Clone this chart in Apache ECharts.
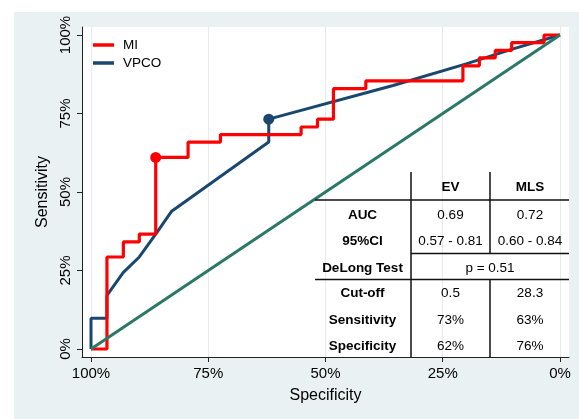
<!DOCTYPE html>
<html>
<head>
<meta charset="utf-8">
<script src="https://cdn.jsdelivr.net/npm/echarts@6/dist/echarts.min.js"></script>
<style>
html,body{margin:0;padding:0;background:#fff;}
#chart{width:579px;height:419px;}
</style>
</head>
<body>
<div id="chart"></div>
<script>
// ---- Data (specificity %, sensitivity %) ----
const miCurve = [[100,0],[96.6,0],[96.6,29.3],[93.1,29.3],[93.1,34.1],[89.7,34.1],[89.7,36.6],[86.2,36.6],[86.2,61.0],[79.3,61.0],[79.3,65.9],[72.4,65.9],[72.4,68.3],[55.2,68.3],[55.2,70.7],[51.7,70.7],[51.7,73.2],[48.3,73.2],[48.3,82.9],[41.4,82.9],[41.4,85.4],[20.7,85.4],[20.7,90.2],[17.2,90.2],[17.2,92.7],[13.8,92.7],[13.8,95.1],[10.3,95.1],[10.3,97.6],[3.4,97.6],[3.4,100],[0,100]];
const vpcoCurve = [[100,0],[100,9.8],[96.6,9.8],[96.6,17.1],[93.1,24.4],[89.7,29.3],[86.2,36.6],[82.8,43.9],[62.1,65.9],[62.1,73.2],[35.6,83.9],[20.0,90.8],[10.0,95.6],[0,100]];
const miCutoff = [[86.2,61.0]];
const vpcoCutoff = [[62.1,73.2]];
const refLine = [[100,0],[0,100]];
const tickValues = [0,25,50,75,100];
const seriesNames = ['MI','VPCO'];

// ---- Table ----
const tableCols = ['EV','MLS'];
const rowLabels = ['AUC','95%CI','DeLong Test','Cut-off','Sensitivity','Specificity'];
const evValues = ['0.69','0.57 - 0.81','','0.5','73%','62%'];
const mlsValues = ['0.72','0.60 - 0.84','','28.3','63%','76%'];
const delongText = 'p = 0.51';

const FONT = "'Liberation Sans', Arial, Helvetica, sans-serif";
const RED = '#ff0000', NAVY = '#1a476f', TEAL = '#2c7867';

// table layout (pixels)
const colX = [362.5, 450.5, 530];
const headerY = 187;
const rowY = [215, 241, 268, 293, 320, 346];
const tG = [];
tableCols.forEach((c,i)=>tG.push({type:'text',z:50,style:{text:c,x:colX[i+1],y:headerY,align:'center',verticalAlign:'middle',font:'bold 13.5px '+FONT,fill:'#000'}}));
rowLabels.forEach((l,i)=>{
  tG.push({type:'text',z:50,style:{text:l,x:colX[0],y:rowY[i],align:'center',verticalAlign:'middle',font:'bold 13.5px '+FONT,fill:'#000'}});
  if (evValues[i]) tG.push({type:'text',z:50,style:{text:evValues[i],x:colX[1],y:rowY[i],align:'center',verticalAlign:'middle',font:'13.5px '+FONT,fill:'#000'}});
  if (mlsValues[i]) tG.push({type:'text',z:50,style:{text:mlsValues[i],x:colX[2],y:rowY[i],align:'center',verticalAlign:'middle',font:'13.5px '+FONT,fill:'#000'}});
});
tG.push({type:'text',z:50,style:{text:delongText,x:490,y:rowY[2],align:'center',verticalAlign:'middle',font:'13.5px '+FONT,fill:'#000'}});
const lineSeg = (x1,y1,x2,y2)=>({type:'line',z:50,shape:{x1,y1,x2,y2},style:{stroke:'#111',lineWidth:1.5}});
tG.push(lineSeg(411,172,411,357));
tG.push(lineSeg(490,172,490,253.5));
tG.push(lineSeg(490,279.5,490,357));
tG.push(lineSeg(315,200,569,200));
tG.push(lineSeg(411,253.5,569,253.5));
tG.push(lineSeg(315,279.5,569,279.5));

const chart = echarts.init(document.getElementById('chart'), null, {renderer:'canvas'});
chart.setOption({
  animation:false,
  backgroundColor:'#fff',
  textStyle:{fontFamily:FONT},
  graphic:[{type:'rect',z:-10,silent:true,shape:{x:14,y:12,width:565,height:407},style:{fill:'#eaf1f3'}}].concat(tG),
  grid:{left:82,right:10,top:27,bottom:62,show:true,backgroundColor:'#fff',borderWidth:0},
  legend:{
    data:seriesNames, orient:'vertical', left:88, top:33, icon:'rect', itemWidth:21, itemHeight:3.5, itemGap:4,
    textStyle:{fontSize:13.5,color:'#000',fontFamily:FONT,padding:[0,0,0,4]}
  },
  xAxis:{
    type:'value', inverse:true, min:-1.92, max:101.92,
    name:'Specificity', nameLocation:'middle', nameGap:31,
    nameTextStyle:{fontSize:16,color:'#000',fontFamily:FONT},
    axisLine:{show:true,onZero:false,lineStyle:{color:'#222',width:1}},
    axisTick:{show:true,length:5,customValues:tickValues,lineStyle:{color:'#222'}},
    axisLabel:{customValues:tickValues,formatter:v=>v+'%',fontSize:15,color:'#000',margin:9,fontFamily:FONT},
    splitLine:{show:true,lineStyle:{color:'#e5ebee',width:1}}
  },
  yAxis:{
    type:'value', min:-2.55, max:102.55,
    name:'Sensitivity', nameLocation:'middle', nameGap:25,
    nameTextStyle:{fontSize:16,color:'#000',fontFamily:FONT},
    axisLine:{show:true,onZero:false,lineStyle:{color:'#222',width:1}},
    axisTick:{show:true,length:5,customValues:tickValues,lineStyle:{color:'#222'}},
    axisLabel:{customValues:tickValues,formatter:v=>v+'%',fontSize:15,color:'#000',rotate:90,margin:9,fontFamily:FONT},
    splitLine:{show:false}
  },
  series:[
    {name:'VPCO',type:'line',data:vpcoCurve,showSymbol:false,symbol:'none',lineStyle:{color:NAVY,width:3},itemStyle:{color:NAVY},z:3},
    {name:'MI',type:'line',data:miCurve,showSymbol:false,symbol:'none',lineStyle:{color:RED,width:3.2},itemStyle:{color:RED},z:4},
    {name:'ref',type:'line',data:refLine,showSymbol:false,symbol:'none',lineStyle:{color:TEAL,width:3},z:5},
    {name:'MI cut-off',type:'scatter',data:miCutoff,symbolSize:11,itemStyle:{color:RED,opacity:1},z:6},
    {name:'VPCO cut-off',type:'scatter',data:vpcoCutoff,symbolSize:11,itemStyle:{color:NAVY,opacity:1},z:6}
  ]
});
</script>
</body>
</html>
